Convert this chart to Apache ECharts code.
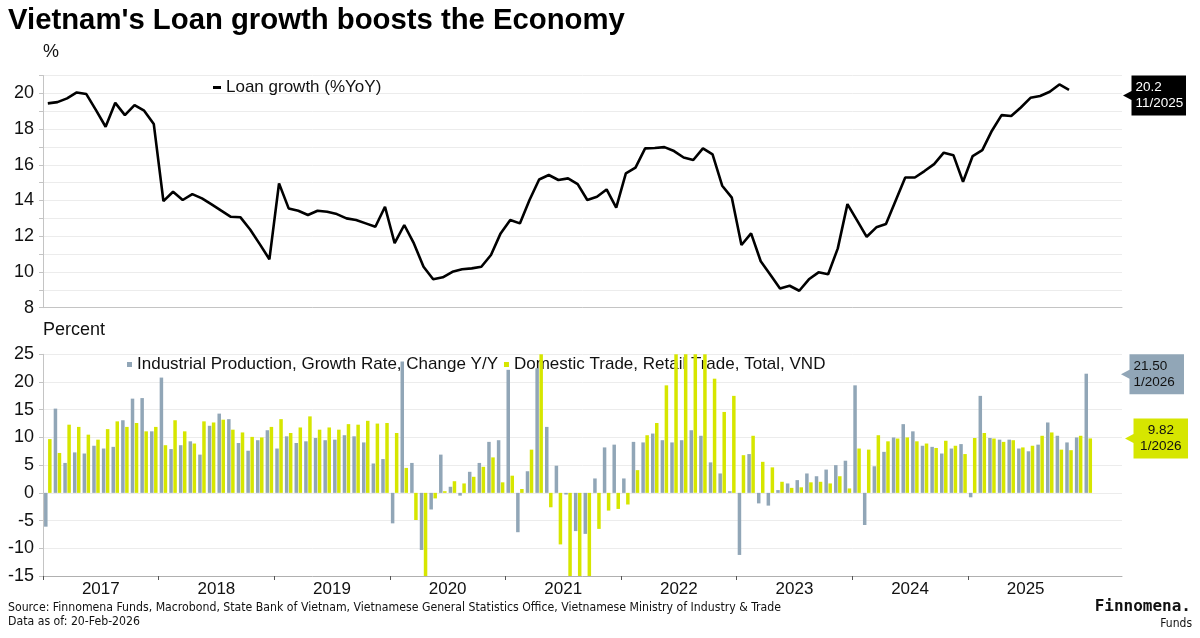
<!DOCTYPE html>
<html>
<head>
<meta charset="utf-8">
<script src="https://cdn.jsdelivr.net/npm/echarts@6/dist/echarts.min.js"></script>
<style>
html,body{margin:0;padding:0;background:#fff;}
#chart{width:1200px;height:638px;}
</style>
</head>
<body>
<div id="chart"></div>
<script>
// ---------------- DATA ----------------
const startYear = 2017;
const axisMonths = 112; // Jan 2017 .. Apr 2026 shown on the time axis
const yearLabels = ['2017','2018','2019','2020','2021','2022','2023','2024','2025'];

// Loan growth (%YoY), monthly Jan 2017 .. Nov 2025
const loanGrowth = [
  19.44, 19.51, 19.72, 20.05, 19.96, 19.06, 18.13, 19.47, 18.78, 19.34, 19.03, 18.28,
  13.97, 14.49, 14.03, 14.36, 14.12, 13.78, 13.43, 13.09, 13.06, 12.38, 11.56, 10.71,
  14.96, 13.56, 13.43, 13.19, 13.43, 13.37, 13.24, 13.00, 12.91, 12.72, 12.53, 13.65,
  11.62, 12.63, 11.60, 10.29, 9.59, 9.70, 10.01, 10.15, 10.20, 10.29, 10.95, 12.16,
  12.91, 12.72, 14.03, 15.18, 15.43, 15.15, 15.24, 14.92, 14.03, 14.21, 14.62, 13.60,
  15.52, 15.84, 16.92, 16.94, 16.99, 16.77, 16.41, 16.27, 16.92, 16.58, 14.83, 14.16,
  11.51, 12.16, 10.60, 9.85, 9.08, 9.23, 8.95, 9.59, 9.98, 9.87, 11.32, 13.80,
  12.89, 11.97, 12.50, 12.68, 13.99, 15.29, 15.29, 15.65, 16.04, 16.68, 16.54, 15.05,
  16.49, 16.82, 17.91, 18.78, 18.73, 19.21, 19.75, 19.85, 20.09, 20.50, 20.20
];

// Industrial Production, Growth Rate, Change Y/Y, monthly Jan 2017 .. Jan 2026
const industrialProduction = [
  -6.1, 15.2, 5.4, 7.3, 7.1, 8.5, 8.0, 8.3, 13.1, 17.0, 17.1, 11.1,
  20.8, 7.9, 8.6, 9.3, 6.9, 12.1, 14.3, 13.3, 9.0, 7.6, 9.5, 11.3,
  8.0, 10.2, 9.0, 9.3, 9.9, 9.5, 9.6, 10.4, 10.2, 9.1, 5.3, 6.1,
  -5.5, 23.7, 5.4, -10.3, -3.0, 6.9, 1.1, -0.5, 3.8, 5.4, 9.2, 9.5,
  22.2, -7.1, 3.9, 22.5, 11.9, 4.9, -0.3, -6.9, -7.4, 2.6, 8.2, 8.7,
  2.6, 9.2, 9.1, 10.7, 9.5, 9.1, 9.5, 11.3, 10.3, 5.5, 3.5, 0.3,
  -11.2, 7.0, -1.9, -2.3, 0.5, 1.7, 2.3, 3.5, 3.0, 4.2, 5.0, 5.8,
  19.4, -5.8, 4.8, 7.4, 10.0, 12.4, 11.1, 8.5, 8.3, 7.1, 8.0, 8.8,
  -0.8, 17.5, 9.9, 9.6, 9.6, 8.0, 7.5, 8.7, 12.7, 10.3, 9.1, 10.0,
  21.5
];

// Domestic Trade, Retail Trade, Total, VND, monthly Jan 2017 .. Jan 2026
const retailTrade = [
  9.7, 7.2, 12.3, 11.9, 10.5, 9.6, 11.5, 12.9, 11.9, 12.6, 11.1, 11.9,
  8.6, 13.1, 11.1, 8.9, 12.9, 12.7, 13.2, 11.4, 10.9, 10.1, 10.0, 11.9,
  13.3, 10.8, 11.8, 13.8, 11.4, 11.8, 11.4, 12.4, 12.3, 13.0, 12.5, 12.6,
  10.8, 4.5, -4.9, -26.0, -1.0, 0.3, 2.1, 1.7, 2.9, 4.7, 6.4, 1.9,
  3.1, 0.7, 7.8, 29.0, -2.6, -9.3, -19.8, -33.7, -28.4, -6.5, -3.2, -2.9,
  -2.1, 4.1, 10.4, 12.6, 19.4, 30.0, 42.6, 50.0, 36.1, 20.6, 14.6, 17.5,
  6.8, 10.3, 5.6, 4.6, 2.0, 0.9, 1.0, 1.9, 2.0, 1.7, 3.0, 0.8,
  8.0, 7.8, 10.4, 9.3, 9.8, 10.0, 9.3, 8.9, 8.1, 9.4, 8.5, 7.0,
  9.9, 10.8, 9.8, 9.2, 9.5, 8.2, 8.5, 10.3, 10.9, 7.8, 7.7, 10.3,
  9.82
];

const seriesNames = {
  loan: 'Loan growth (%YoY)',
  ip: 'Industrial Production, Growth Rate, Change Y/Y',
  retail: 'Domestic Trade, Retail Trade, Total, VND'
};

// ---------------- HELPERS ----------------
const FONT = '"Liberation Sans", Arial, Helvetica, sans-serif';
const NARROW = '"Liberation Sans Narrow", "Arial Narrow", "DejaVu Sans Condensed", sans-serif';
const GRAY = '#91a6b7';
const YELLOW = '#d6e600';

const toXY = arr => arr.map((v, i) => [i + 0.5, v]);
const monthLabel = i => (i % 12 + 1) + '/' + (startYear + Math.floor(i / 12));
const yearTicks = yearLabels.map((y, k) => k * 12);
const yearCenters = yearLabels.map((y, k) => k * 12 + 6);

const boxPath = 'path://M0,20L8.5,15.5L8.5,0L63,0L63,40L8.5,40L8.5,24.5Z';

function endBox(value, idx, digits, fill, textColor, align) {
  return {
    symbol: boxPath,
    symbolSize: [63, 40],
    symbolKeepAspect: false,
    silent: true,
    itemStyle: { color: fill },
    label: {
      show: true,
      position: 'inside',
      align: align,
      offset: align === 'left' ? [-19, 0] : [4.25, 0],
      color: textColor,
      fontFamily: FONT,
      fontSize: 13.5,
      lineHeight: 16,
      formatter: () => value.toFixed(digits) + '\n' + monthLabel(idx)
    },
    data: [{ coord: [axisMonths, value] }]
  };
}

const lastLoanIdx = loanGrowth.length - 1;
const lastIpIdx = industrialProduction.length - 1;
const lastRtIdx = retailTrade.length - 1;

const topMark = endBox(loanGrowth[lastLoanIdx], lastLoanIdx, 1, '#000', '#fff', 'left');
topMark.symbolOffset = [32.5, 5.8];
const ipMark = endBox(industrialProduction[lastIpIdx], lastIpIdx, 2, GRAY, '#111', 'left');
ipMark.symbolOffset = [32.5, 0.5];
const rtMark = endBox(retailTrade[lastRtIdx], lastRtIdx, 2, YELLOW, '#111', 'center');
rtMark.symbolOffset = [32.5, 0];

const axisLabelStyle = { color: '#111', fontFamily: FONT, fontSize: 18 };

const chart = echarts.init(document.getElementById('chart'), null, { renderer: 'canvas' });

const option = {
  animation: false,
  backgroundColor: '#ffffff',
  textStyle: { fontFamily: FONT },
  title: [
    { text: "Vietnam's Loan growth boosts the Economy", left: 8, top: 6, padding: 0,
      textStyle: { fontSize: 29.3, fontWeight: 'bold', color: '#000', fontFamily: FONT } },
    { text: '%', left: 43, top: 43, padding: 0,
      textStyle: { fontSize: 18, fontWeight: 'normal', color: '#111', fontFamily: FONT } },
    { text: 'Percent', left: 43, top: 321, padding: 0,
      textStyle: { fontSize: 18, fontWeight: 'normal', color: '#111', fontFamily: FONT } },
    { text: 'Source: Finnomena Funds, Macrobond, State Bank of Vietnam, Vietnamese General Statistics Office, Vietnamese Ministry of Industry & Trade',
      left: 8, top: 602, padding: 0,
      textStyle: { fontSize: 12.2, fontWeight: 'normal', color: '#111', fontFamily: NARROW } },
    { text: 'Data as of: 20-Feb-2026', left: 8, top: 616, padding: 0,
      textStyle: { fontSize: 12.2, fontWeight: 'normal', color: '#111', fontFamily: NARROW } },
    { text: 'Finnomena.', right: 9, top: 599, padding: 0,
      textStyle: { fontSize: 16, fontWeight: 'bold', color: '#111', fontFamily: '"DejaVu Sans Mono", monospace' } },
    { text: 'Funds', right: 8, top: 618, padding: 0,
      textStyle: { fontSize: 12, fontWeight: 'normal', color: '#111', fontFamily: NARROW } }
  ],
  legend: [
    { data: [{ name: seriesNames.loan, icon: 'rect' }],
      left: 213, top: 79, padding: 0, itemWidth: 8, itemHeight: 3, itemGap: 6, z: 1,
      selectedMode: false,
      textStyle: { fontSize: 17, color: '#111', fontFamily: FONT } },
    { data: [{ name: seriesNames.ip, icon: 'rect' }, { name: seriesNames.retail, icon: 'rect' }],
      left: 127, top: 356, padding: 0, itemWidth: 5, itemHeight: 5, itemGap: 6, z: 1,
      selectedMode: false,
      textStyle: { fontSize: 17, color: '#111', fontFamily: FONT } }
  ],
  grid: [
    { left: 43, right: 78, top: 75.5, height: 232.2, containLabel: false, outerBoundsMode: 'none' },
    { left: 43, right: 78, top: 354.3, height: 221.7, containLabel: false, outerBoundsMode: 'none' }
  ],
  xAxis: [
    { type: 'value', gridIndex: 0, min: 0, max: axisMonths,
      axisLine: { show: true, onZero: false, lineStyle: { color: '#c4c4c4', width: 1 } },
      axisTick: { show: false }, axisLabel: { show: false }, splitLine: { show: false } },
    { type: 'value', gridIndex: 1, min: 0, max: axisMonths,
      axisLine: { show: true, onZero: false, lineStyle: { color: '#b0b0b0', width: 1 } },
      axisTick: { show: true, customValues: yearTicks, length: 4, lineStyle: { color: '#555' } },
      axisLabel: { show: true, customValues: yearCenters, margin: 5, ...axisLabelStyle, fontSize: 17,
        formatter: v => yearLabels[Math.round((v - 6) / 12)] },
      splitLine: { show: false } }
  ],
  yAxis: [
    { type: 'value', gridIndex: 0, min: 8, max: 21, interval: 1,
      axisLine: { show: true, lineStyle: { color: '#c4c4c4' } },
      axisTick: { show: true, length: 4, lineStyle: { color: '#c4c4c4' } },
      axisLabel: { ...axisLabelStyle, margin: 9, formatter: v => (v % 2 === 0 ? String(v) : '') },
      splitLine: { show: true, lineStyle: { color: '#ececec', width: 1 } } },
    { type: 'value', gridIndex: 1, min: -15, max: 25, interval: 5,
      axisLine: { show: true, lineStyle: { color: '#c4c4c4' } },
      axisTick: { show: true, length: 4, lineStyle: { color: '#c4c4c4' } },
      axisLabel: { ...axisLabelStyle, margin: 9 },
      splitLine: { show: true, lineStyle: { color: '#ececec', width: 1 } } }
  ],
  series: [
    { name: seriesNames.loan, type: 'line', xAxisIndex: 0, yAxisIndex: 0,
      data: toXY(loanGrowth), showSymbol: false, symbol: 'none', color: '#000',
      lineStyle: { color: '#000', width: 2.6 }, z: 3,
      markPoint: topMark },
    { name: seriesNames.ip, type: 'bar', xAxisIndex: 1, yAxisIndex: 1,
      data: toXY(industrialProduction), color: GRAY, itemStyle: { color: GRAY },
      barWidth: 3.5, barGap: '15%', z: 3, markPoint: ipMark },
    { name: seriesNames.retail, type: 'bar', xAxisIndex: 1, yAxisIndex: 1,
      data: toXY(retailTrade), color: YELLOW, itemStyle: { color: YELLOW },
      barWidth: 3.5, barGap: '15%', z: 3, markPoint: rtMark }
  ]
};

chart.setOption(option);
</script>
</body>
</html>
